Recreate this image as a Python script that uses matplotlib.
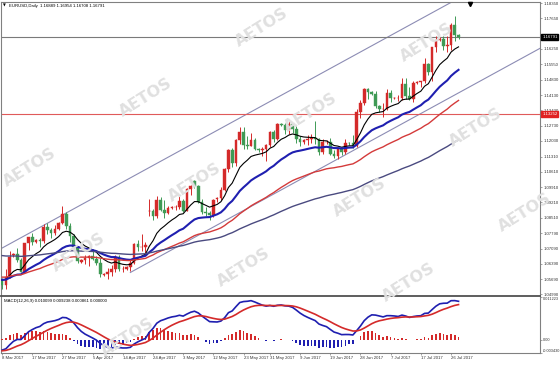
import numpy as np
import matplotlib
matplotlib.use("Agg")
import matplotlib.pyplot as plt
import matplotlib.transforms as mtransforms

# EURUSD daily bars, 8 Mar 2017 .. 28 Jul 2017 (Sunday bars included)
opens = [1.0565, 1.0543, 1.0581, 1.0680, 1.0685, 1.0655, 1.0604, 1.0735, 1.0762, 1.0740,
         1.0748, 1.0743, 1.0810, 1.0796, 1.0783, 1.0800, 1.0825, 1.0867, 1.0815, 1.0766,
         1.0717, 1.0650, 1.0655, 1.0667, 1.0674, 1.0662, 1.0643, 1.0590, 1.0594, 1.0602,
         1.0615, 1.0671, 1.0614, 1.0617, 1.0625, 1.0642, 1.0731, 1.0717, 1.0718, 1.0880,
         1.0880, 1.0860, 1.0933, 1.0887, 1.0873, 1.0895, 1.0900, 1.0902, 1.0929, 1.0884,
         1.0982, 1.1020, 1.0995, 1.0923, 1.0876, 1.0872, 1.0862, 1.0935, 1.0940, 1.0980,
         1.1076, 1.1160, 1.1100, 1.1207, 1.1242, 1.1183, 1.1182, 1.1209, 1.1164, 1.1160,
         1.1164, 1.1185, 1.1244, 1.1214, 1.1280, 1.1276, 1.1254, 1.1280, 1.1258, 1.1213,
         1.1196, 1.1205, 1.1214, 1.1216, 1.1214, 1.1150, 1.1197, 1.1200, 1.1145, 1.1133,
         1.1167, 1.1151, 1.1195, 1.1192, 1.1181, 1.1337, 1.1378, 1.1443, 1.1426, 1.1420,
         1.1362, 1.1349, 1.1350, 1.1423, 1.1400, 1.1400, 1.1400, 1.1466, 1.1410, 1.1397,
         1.1470, 1.1475, 1.1478, 1.1556, 1.1517, 1.1634, 1.1665, 1.1670, 1.1640, 1.1644,
         1.1734, 1.16889]
highs = [1.0575, 1.0615, 1.0700, 1.0690, 1.0714, 1.0665, 1.0737, 1.0763, 1.0780, 1.0752,
         1.0760, 1.0820, 1.0825, 1.0805, 1.0818, 1.0830, 1.0906, 1.0875, 1.0825, 1.0775,
         1.0720, 1.0660, 1.0680, 1.0680, 1.0707, 1.0675, 1.0665, 1.0598, 1.0620, 1.0635,
         1.0680, 1.0680, 1.0630, 1.0630, 1.0655, 1.0737, 1.0750, 1.0778, 1.0740, 1.0937,
         1.0890, 1.0950, 1.0945, 1.0932, 1.0905, 1.0905, 1.0910, 1.0950, 1.0935, 1.0988,
         1.0999, 1.1022, 1.1000, 1.0935, 1.0900, 1.0880, 1.0935, 1.0945, 1.0990, 1.1080,
         1.1165, 1.1172, 1.1210, 1.1265, 1.1268, 1.1225, 1.1240, 1.1215, 1.1170, 1.1175,
         1.1190, 1.1250, 1.1255, 1.1285, 1.1285, 1.1285, 1.1295, 1.1285, 1.1270, 1.1225,
         1.1210, 1.1230, 1.1235, 1.1296, 1.1218, 1.1210, 1.1205, 1.1215, 1.1160, 1.1170,
         1.1175, 1.1210, 1.1200, 1.1230, 1.1350, 1.1390, 1.1445, 1.1445, 1.1430, 1.1430,
         1.1370, 1.1375, 1.1440, 1.1438, 1.1405, 1.1415, 1.1490, 1.1490, 1.1450, 1.1480,
         1.1480, 1.1480, 1.1583, 1.1560, 1.1635, 1.1682, 1.1680, 1.1685, 1.1685, 1.1745,
         1.1777, 1.16954]
lows = [1.0524, 1.0525, 1.0575, 1.0672, 1.0650, 1.0600, 1.0600, 1.0703, 1.0725, 1.0735,
        1.0715, 1.0735, 1.0775, 1.0760, 1.0770, 1.0795, 1.0820, 1.0800, 1.0740, 1.0705,
        1.0645, 1.0642, 1.0640, 1.0630, 1.0655, 1.0633, 1.0580, 1.0582, 1.0570, 1.0585,
        1.0600, 1.0605, 1.0600, 1.0612, 1.0605, 1.0640, 1.0700, 1.0700, 1.0680, 1.0860,
        1.0840, 1.0850, 1.0880, 1.0850, 1.0870, 1.0890, 1.0885, 1.0890, 1.0875, 1.0880,
        1.0955, 1.0985, 1.0920, 1.0870, 1.0860, 1.0840, 1.0855, 1.0925, 1.0930, 1.0975,
        1.1060, 1.1085, 1.1090, 1.1190, 1.1165, 1.1165, 1.1180, 1.1160, 1.1150, 1.1135,
        1.1110, 1.1175, 1.1200, 1.1205, 1.1270, 1.1235, 1.1235, 1.1240, 1.1195, 1.1180,
        1.1190, 1.1185, 1.1195, 1.1190, 1.1140, 1.1145, 1.1190, 1.1140, 1.1125, 1.1118,
        1.1140, 1.1145, 1.1185, 1.1170, 1.1175, 1.1310, 1.1370, 1.1395, 1.1415, 1.1355,
        1.1335, 1.1315, 1.1345, 1.1380, 1.1395, 1.1385, 1.1390, 1.1395, 1.1390, 1.1380,
        1.1465, 1.1450, 1.1470, 1.1505, 1.1480, 1.1610, 1.1660, 1.1620, 1.1610, 1.1620,
        1.1660, 1.16708]
closes = [1.0543, 1.0581, 1.0672, 1.0685, 1.0655, 1.0604, 1.0735, 1.0762, 1.0739, 1.0748,
          1.0743, 1.0810, 1.0796, 1.0783, 1.0798, 1.0825, 1.0867, 1.0815, 1.0766, 1.0717,
          1.0652, 1.0655, 1.0667, 1.0674, 1.0662, 1.0643, 1.0592, 1.0594, 1.0602, 1.0615,
          1.0671, 1.0614, 1.0617, 1.0625, 1.0642, 1.0731, 1.0717, 1.0718, 1.0726, 1.0880,
          1.0860, 1.0933, 1.0887, 1.0873, 1.0895, 1.0900, 1.0902, 1.0929, 1.0884, 1.0982,
          1.0998, 1.0995, 1.0923, 1.0876, 1.0872, 1.0862, 1.0933, 1.0940, 1.0980, 1.1076,
          1.1160, 1.1100, 1.1207, 1.1242, 1.1183, 1.1182, 1.1209, 1.1164, 1.1160, 1.1164,
          1.1185, 1.1244, 1.1214, 1.1280, 1.1276, 1.1254, 1.1280, 1.1258, 1.1213, 1.1196,
          1.1205, 1.1214, 1.1216, 1.1214, 1.1150, 1.1197, 1.1200, 1.1145, 1.1133, 1.1167,
          1.1151, 1.1195, 1.1192, 1.1181, 1.1337, 1.1378, 1.1443, 1.1426, 1.1420, 1.1362,
          1.1349, 1.1350, 1.1423, 1.1400, 1.1400, 1.1400, 1.1466, 1.1410, 1.1397, 1.1470,
          1.1475, 1.1478, 1.1556, 1.1517, 1.1634, 1.1665, 1.1670, 1.1640, 1.1644, 1.1734,
          1.1689, 1.16791]

# indicator levels on the first bar (history before 8 Mar is off screen)
ma_seed = {"fast": 1.0570, "mid": 1.0568, "slow": 1.0580, "long": 1.0680}
ema12_seed, ema26_seed, signal_seed = 1.0565, 1.0592, -0.0029

# trend channel: upper line anchors, lower line start
upper_anchor = [(0, 1.0712), (119, 1.1838)]
lower_start = (34, 1.0600)
support_level = 1.13252

price_ticks = [1.18350, 1.17650, 1.16250, 1.15550, 1.14830, 1.14130, 1.13430, 1.12730,
               1.12030, 1.11310, 1.10610, 1.09910, 1.09210, 1.08510, 1.07790, 1.07090,
               1.06390, 1.05690, 1.04990]
date_idx = [0, 8, 16, 24, 32, 40, 48, 56, 64, 71, 79, 87, 95, 103, 111, 119]
date_labels = ["8 Mar 2017", "17 Mar 2017", "27 Mar 2017", "5 Apr 2017", "14 Apr 2017",
               "24 Apr 2017", "3 May 2017", "12 May 2017", "23 May 2017", "31 May 2017",
               "9 Jun 2017", "19 Jun 2017", "28 Jun 2017", "7 Jul 2017", "17 Jul 2017",
               "26 Jul 2017"]
macd_top, macd_bottom = 0.011223, -0.003430

RED = "#d42a2a"
GREEN = "#3f9a55"
BLUE = "#1f1fb0"
FS = 3.1

plt.rcParams["font.family"] = ["Liberation Sans", "DejaVu Sans"]


def ema(vals, period, seed):
    k = 2.0 / (period + 1)
    out = []
    prev = seed
    for v in vals:
        prev = k * v + (1 - k) * prev
        out.append(prev)
    return np.array(out)


o = np.array(opens); h = np.array(highs); l = np.array(lows); c = np.array(closes)
n = len(c)
xs = np.arange(n)

W, H = 560, 365
fig = plt.figure(figsize=(W / 100, H / 100), dpi=100)
fig.patch.set_facecolor("white")


def box(left, top, right, bottom):
    return [left / W, 1 - bottom / H, (right - left) / W, (bottom - top) / H]


# tiled watermark behind everything
for i in range(-2, 5):
    for j in range(-2, 7):
        wx = 262 + 165 * i - 116 * j
        wy = 27 + 15 * i + 70 * j
        if 15 < wx < 540 and 20 < wy < 340:
            fig.text(wx / W, 1 - wy / H, "AETOS", fontsize=11.5, fontweight="bold",
                     family="DejaVu Sans", color="#e0e0e0", rotation=32,
                     ha="center", va="center", zorder=0)

ax = fig.add_axes(box(1, 2, 540, 296))
mx = fig.add_axes(box(1, 297, 540, 353))
for a in (ax, mx):
    a.set_facecolor("none")
    a.set_xlim(-0.3, 142.6)
    for s in a.spines.values():
        s.set_color("#808080")
        s.set_linewidth(0.8)
    a.yaxis.tick_right()
    a.tick_params(axis="both", labelsize=FS, length=1.5, pad=0.8, color="#808080",
                  labelcolor="#333333", width=0.5)
mx.tick_params(axis="y", labelsize=2.8)
ax.spines["bottom"].set_linewidth(1.3)
ax.spines["bottom"].set_color("#505050")
mx.spines["top"].set_visible(False)

# candles
up = c >= o
col = np.where(up, RED, GREEN)
ax.vlines(xs, l, h, colors=col, linewidth=0.7, zorder=3)
body_lo = np.minimum(o, c)
body_h = np.maximum(np.abs(c - o), 0.00015)
ax.bar(xs, body_h, bottom=body_lo, width=0.7, color=col, edgecolor=col, linewidth=0.3,
       zorder=4)

# moving averages
ax.plot(xs, ema(c, 10, ma_seed["fast"]), color="black", lw=0.8, zorder=5)
ax.plot(xs, ema(c, 24, ma_seed["mid"]), color=BLUE, lw=1.5, zorder=5)
ax.plot(xs, ema(c, 50, ma_seed["slow"]), color="#d43a3a", lw=1.0, zorder=5)
ax.plot(xs, ema(c, 100, ma_seed["long"]), color="#4a4a80", lw=1.0, zorder=5)

# channel
(x0, y0), (x1, y1) = upper_anchor
slope = (y1 - y0) / (x1 - x0)
xr = np.array([x0, 143])
ax.plot(xr, y0 + slope * (xr - x0), color="#8c8cb4", lw=0.8, zorder=2)
xl = np.array([lower_start[0], 143])
ax.plot(xl, lower_start[1] + slope * (xl - lower_start[0]), color="#8c8cb4", lw=0.8, zorder=2)

# horizontal levels
ax.axhline(c[-1], color="#7a7a7a", lw=0.8, zorder=2)
ax.axhline(support_level, color="#e05a5a", lw=0.8, zorder=2)

ax.set_ylim(1.0492, 1.1840)
ax.set_yticks(price_ticks)
ax.set_yticklabels(["%.5f" % v for v in price_ticks])
ax.set_xticks([])

trans = mtransforms.blended_transform_factory(ax.transAxes, ax.transData)
ax.text(1.004, c[-1], "%.5f" % c[-1], transform=trans, fontsize=FS, color="white",
        va="center", ha="left", bbox=dict(fc="black", ec="black", pad=0.6), zorder=10,
        clip_on=False)
ax.text(1.004, support_level, "%.5f" % support_level, transform=trans, fontsize=FS,
        color="white", va="center", ha="left", bbox=dict(fc="#e02020", ec="#e02020", pad=0.6),
        zorder=10, clip_on=False)

ax.text(0.004, 0.994, "\u25BC", transform=ax.transAxes, fontsize=2.6, va="top", ha="left",
        family="DejaVu Sans", color="black")
ax.text(0.014, 0.993, "EURUSD,Daily  %.5f %.5f %.5f %.5f" % (o[-1], h[-1], l[-1], c[-1]),
        transform=ax.transAxes, fontsize=FS, va="top", ha="left", color="black", zorder=10)
ax.plot([124], [1.1832], marker="v", color="black", ms=3, clip_on=False, zorder=6)

# MACD
e12 = ema(c, 12, ema12_seed)
e26 = ema(c, 26, ema26_seed)
macd = e12 - e26
signal = ema(macd, 9, signal_seed)
hist = macd - signal
mx.bar(xs, hist, width=0.45, color=np.where(hist >= 0, RED, BLUE), zorder=3)
mx.plot(xs, macd, color=BLUE, lw=1.2, zorder=4)
mx.plot(xs, signal, color="#d42a2a", lw=1.2, zorder=4)
mx.set_ylim(macd_bottom, macd_top)
mx.set_yticks([macd_top, 0.0, macd_bottom])
mx.set_yticklabels(["%.6f" % macd_top, "0.00", "%.6f" % macd_bottom])
ylabs = mx.get_yticklabels()
ylabs[0].set_va("top")
ylabs[2].set_va("bottom")
mx.text(0.006, 0.96, "MACD(12,26,9) %.6f %.6f %.6f %.6f" % (macd[-1], signal[-1], abs(hist[-1]), 0.0),
        transform=mx.transAxes, fontsize=FS, va="top", ha="left", color="black", zorder=10)

mx.set_xticks(date_idx)
mx.set_xticklabels(date_labels, ha="left")

fig.savefig("out.png", dpi=100)
